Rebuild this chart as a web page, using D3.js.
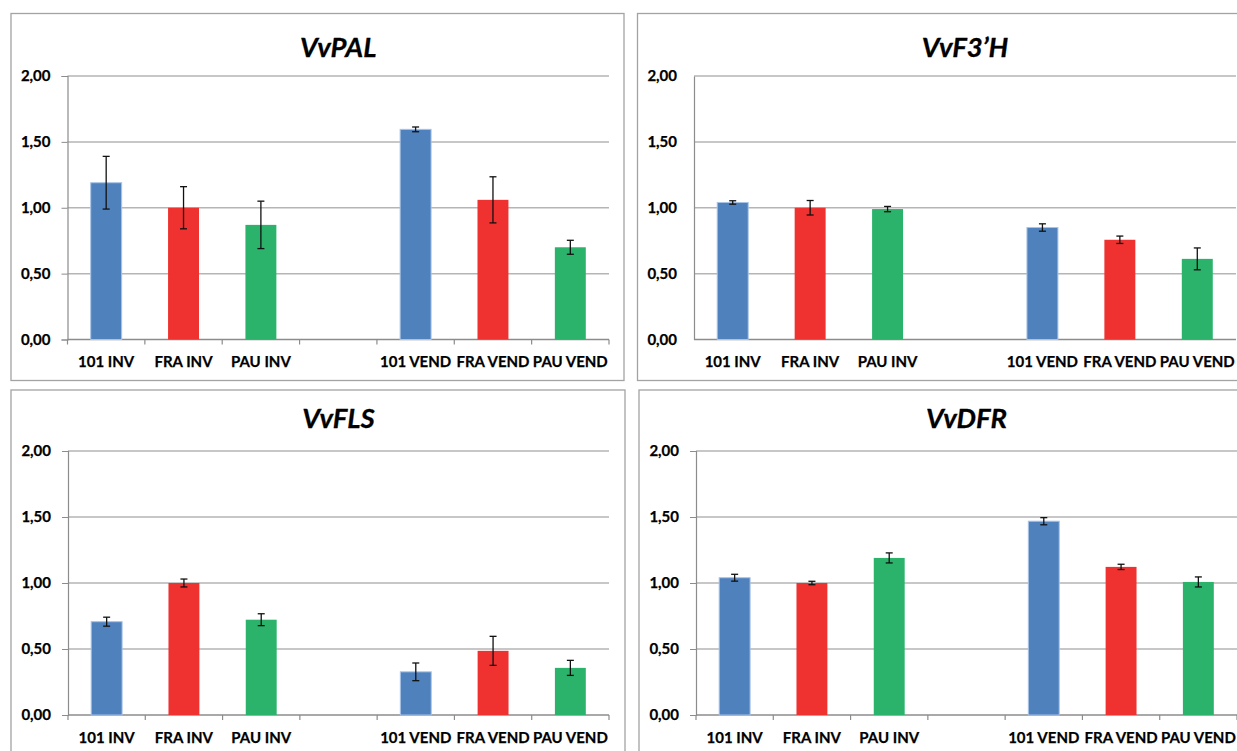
<!DOCTYPE html>
<html>
<head>
<meta charset="utf-8">
<script src="https://cdn.jsdelivr.net/npm/d3@7/dist/d3.min.js"></script>
<style>
  html, body { margin: 0; padding: 0; background: #ffffff; }
  svg { display: block; }
  .cat, .ytick { font-family: Lato, "Liberation Sans", sans-serif; font-weight: 700; font-size: 15px; fill: #000; stroke: #000; stroke-width: 0.25px; }
  .title { font-family: Lato, "Liberation Sans", sans-serif; font-weight: 700; font-style: italic; font-size: 27.5px; fill: #000; stroke: #000; stroke-width: 0.3px; }
</style>
</head>
<body>
<svg id="chart" width="1237" height="751"></svg>
<script>
// Categories along the x axis; the empty entry is the spacer slot between the two stages
const categories = ["101 INV", "FRA INV", "PAU INV", "", "101 VEND", "FRA VEND", "PAU VEND"];
const yTicks = [0, 0.5, 1.0, 1.5, 2.0];
const barColors = ["#4f81bd", "#ef3230", "#2bb36b", null, "#4f81bd", "#ef3230", "#2bb36b"];

// Relative expression (mean) and error per category, one pair of arrays per gene
const palValues = [1.19, 1.00, 0.87, null, 1.595, 1.06, 0.70];
const palErrors = [0.20, 0.16, 0.18, null, 0.018, 0.175, 0.053];

const f3hValues = [1.04, 1.00, 0.99, null, 0.85, 0.757, 0.612];
const f3hErrors = [0.013, 0.055, 0.02, null, 0.028, 0.028, 0.083];

const flsValues = [0.707, 1.00, 0.722, null, 0.327, 0.486, 0.357];
const flsErrors = [0.034, 0.03, 0.045, null, 0.067, 0.11, 0.057];

const dfrValues = [1.04, 1.00, 1.19, null, 1.468, 1.122, 1.008];
const dfrErrors = [0.026, 0.013, 0.038, null, 0.027, 0.02, 0.038];

const panels = [
  { title: "VvPAL",  values: palValues, errors: palErrors, box: [11, 13.5, 613, 367],  plot: [67.5, 609, 76, 339.5], ticks: true,  titleY: 57 },
  { title: "VvF3\u2019H", values: f3hValues, errors: f3hErrors, box: [637.5, 13.5, 640, 367], plot: [694, 1236, 76, 339.5], ticks: false, titleY: 57 },
  { title: "VvFLS",  values: flsValues, errors: flsErrors, box: [11, 390, 614, 400],  plot: [68, 609, 451, 715], ticks: true,  titleY: 428 },
  { title: "VvDFR",  values: dfrValues, errors: dfrErrors, box: [639, 390, 640, 400], plot: [696, 1237, 451, 715], ticks: true,  titleY: 428 }
];

const svg = d3.select("#chart");
const fmt = v => d3.format(".2f")(v).replace(".", ",");

panels.forEach(p => {
  const g = svg.append("g");
  const [bx, by, bw, bh] = p.box;
  const [x0, x1, yTop, yBot] = p.plot;

  // Chart frame
  g.append("rect")
    .attr("x", bx).attr("y", by).attr("width", bw).attr("height", bh)
    .attr("fill", "#fff").attr("stroke", "#a3a3a3").attr("stroke-width", 1.3);

  const x = d3.scaleBand().domain(d3.range(categories.length)).range([x0, x1]).paddingInner(0).paddingOuter(0);
  const y = d3.scaleLinear().domain([0, 2]).range([yBot, yTop]);

  // Horizontal gridlines
  g.append("g").selectAll("line").data(yTicks.filter(t => t > 0)).join("line")
    .attr("x1", x0).attr("x2", x1)
    .attr("y1", d => y(d)).attr("y2", d => y(d))
    .attr("stroke", "#b5b5b5").attr("stroke-width", 1.5);

  // Y axis
  const yAxis = d3.axisLeft(y).tickValues(yTicks).tickFormat(fmt)
    .tickSize(p.ticks ? 6 : 0).tickPadding(p.ticks ? 11 : 17);
  const ya = g.append("g").attr("transform", `translate(${x0},0)`).call(yAxis);
  ya.select(".domain").attr("stroke", "#8c8c8c").attr("stroke-width", 1.2);
  ya.selectAll(".tick line").attr("stroke", "#8c8c8c");
  ya.selectAll(".tick text").attr("class", "ytick").attr("fill", null).attr("font-family", null).attr("font-size", null);

  // X axis with ticks on the slot boundaries
  g.append("line").attr("x1", x0).attr("x2", x1).attr("y1", yBot).attr("y2", yBot)
    .attr("stroke", "#8c8c8c").attr("stroke-width", 1.4);
  if (p.ticks) {
    const bounds = d3.range(categories.length + 1).map(i => i < categories.length ? x(i) : x1);
    g.append("g").selectAll("line").data(bounds).join("line")
      .attr("x1", d => d).attr("x2", d => d).attr("y1", yBot).attr("y2", yBot + 5)
      .attr("stroke", "#8c8c8c").attr("stroke-width", 1.2);
  }
  g.append("g").selectAll("text").data(categories).join("text")
    .attr("class", "cat")
    .attr("x", (d, i) => x(i) + x.bandwidth() / 2)
    .attr("y", yBot + 27.5)
    .attr("text-anchor", "middle")
    .text(d => d);

  // Bars
  const bw2 = x.bandwidth() * 0.4;
  const data = p.values.map((v, i) => ({ i, v, e: p.errors[i], c: barColors[i] })).filter(d => d.v != null);
  g.append("g").selectAll("rect").data(data).join("rect")
    .attr("x", d => x(d.i) + (x.bandwidth() - bw2) / 2)
    .attr("width", bw2)
    .attr("y", d => y(d.v))
    .attr("height", d => y(0) - y(d.v))
    .attr("fill", d => d.c)
    .attr("stroke", d => d.c === "#4f81bd" ? "#a9c3e6" : "none")
    .attr("stroke-width", 1);

  // Error bars
  const eg = g.append("g").attr("stroke", "#111").attr("stroke-width", 1.3);
  data.forEach(d => {
    const cx = x(d.i) + x.bandwidth() / 2;
    const yt = y(d.v + d.e), yb = y(d.v - d.e);
    eg.append("line").attr("x1", cx).attr("x2", cx).attr("y1", yt).attr("y2", yb);
    eg.append("line").attr("x1", cx - 3.5).attr("x2", cx + 3.5).attr("y1", yt).attr("y2", yt);
    eg.append("line").attr("x1", cx - 3.5).attr("x2", cx + 3.5).attr("y1", yb).attr("y2", yb);
  });

  // Title
  g.append("text").attr("class", "title")
    .attr("x", (x0 + x1) / 2).attr("y", p.titleY)
    .attr("text-anchor", "middle")
    .text(p.title);
});
</script>
</body>
</html>
